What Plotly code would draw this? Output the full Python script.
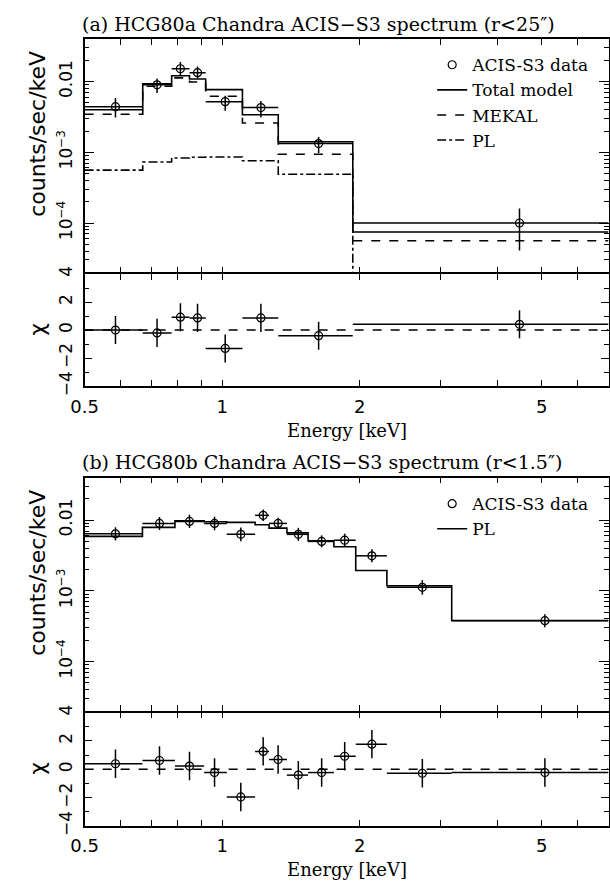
import numpy as np
import plotly.graph_objects as go

# ---------------- (a) HCG80a: MEKAL + power law ----------------
edges_a = [0.5, 0.670, 0.775, 0.848, 0.920, 1.107, 1.326, 1.93, 7.0]
total_a = [0.0040, 0.0093, 0.0121, 0.0109, 0.0077, 0.0034, 0.00141, 7.45e-5]
mekal_a = [0.00345, 0.0086, 0.0113, 0.0099, 0.0062, 0.0026, 0.00094, 5.6e-5]
pl_a = [5.6e-4, 7.3e-4, 8.3e-4, 8.5e-4, 8.6e-4, 7.6e-4, 4.9e-4, 1.8e-5]

energy_a = [0.584, 0.720, 0.810, 0.883, 1.015, 1.215, 1.625, 4.47]
flux_a = [0.00442, 0.0090, 0.0152, 0.0134, 0.0052, 0.0043, 0.00133, 1.0e-4]
flux_a_hi = [0.00589, 0.0111, 0.0189, 0.0164, 0.0063, 0.0053, 0.00165, 1.61e-4]
flux_a_lo = [0.00312, 0.0069, 0.0124, 0.0111, 0.00386, 0.00312, 0.000976, 4.07e-5]
chi_a = [0.0, -0.2, 0.92, 0.87, -1.31, 0.87, -0.4, 0.41]

# ---------------- (b) HCG80b: power law ----------------
edges_b = [0.5, 0.669, 0.788, 0.913, 1.023, 1.180, 1.266, 1.385, 1.541,
           1.755, 1.959, 2.292, 3.177, 7.0]
model_b = [0.0059, 0.0079, 0.0098, 0.0095, 0.0093, 0.0086, 0.0077, 0.0066,
           0.0051, 0.0042, 0.00194, 0.00118, 3.8e-4]
energy_b = [0.584, 0.729, 0.848, 0.962, 1.098, 1.229, 1.325, 1.467, 1.650,
            1.853, 2.125, 2.74, 5.08]
flux_b = [0.0064, 0.0090, 0.0096, 0.0090, 0.0063, 0.0117, 0.0090, 0.0063,
          0.0050, 0.0052, 0.00313, 0.00112, 3.78e-4]
flux_b_hi = [0.00792, 0.0111, 0.0119, 0.0112, 0.00787, 0.0141, 0.0108, 0.00779,
             0.00609, 0.00643, 0.00387, 0.00142, 4.68e-4]
flux_b_lo = [0.00517, 0.00728, 0.00776, 0.00721, 0.00504, 0.00973, 0.00749, 0.00509,
             0.00411, 0.00420, 0.00253, 0.000883, 3.06e-4]
chi_b = [0.39, 0.62, 0.23, -0.23, -1.95, 1.26, 0.69, -0.41, -0.23, 0.92, 1.77,
         -0.28, -0.23]

W, H = 610, 888
SERIF = "DejaVu Serif"
SANS = "DejaVu Sans"
BLACK = "black"
LW = 1.6  # frame line width


def px_x(p):
    return p / W


def px_y(p):
    return 1 - p / H


def step_xy(edges, vals):
    return list(edges), list(vals) + [vals[-1]]


def xerr(edges, e):
    lo = [e[i] - edges[i] for i in range(len(e))]
    hi = [edges[i + 1] - e[i] for i in range(len(e))]
    return hi, lo


fig = go.Figure()


def add_panel(n_main, n_res, edges, energy, flux, fhi, flo, chi, models, legend):
    xa_m, ya_m = ("x", "y") if n_main == 1 else (f"x{n_main}", f"y{n_main}")
    xa_r, ya_r = f"x{n_res}", f"y{n_res}"
    ehi, elo = xerr(edges, energy)
    marker = dict(symbol="circle-open", size=8, color=BLACK, line=dict(width=1.2, color=BLACK))
    fig.add_trace(go.Scatter(
        x=energy, y=flux, mode="markers", name="ACIS-S3 data", legend=legend,
        xaxis=xa_m, yaxis=ya_m, marker=marker,
        error_x=dict(type="data", symmetric=False, array=ehi, arrayminus=elo,
                     width=0, thickness=1.5, color=BLACK),
        error_y=dict(type="data", symmetric=False,
                     array=[h - f for h, f in zip(fhi, flux)],
                     arrayminus=[f - l for f, l in zip(flux, flo)],
                     width=0, thickness=1.5, color=BLACK),
    ))
    for name, vals, dash in models:
        sx, sy = step_xy(edges, vals)
        fig.add_trace(go.Scatter(
            x=sx, y=sy, mode="lines", name=name, legend=legend,
            xaxis=xa_m, yaxis=ya_m, line_shape="hv",
            line=dict(color=BLACK, width=1.6, dash=dash),
        ))
    # residual panel
    fig.add_trace(go.Scatter(
        x=[edges[0], edges[-1]], y=[0, 0], mode="lines", showlegend=False,
        xaxis=xa_r, yaxis=ya_r, line=dict(color=BLACK, width=1.5, dash="dash"),
    ))
    fig.add_trace(go.Scatter(
        x=energy, y=chi, mode="markers", showlegend=False,
        xaxis=xa_r, yaxis=ya_r, marker=marker,
        error_x=dict(type="data", symmetric=False, array=ehi, arrayminus=elo,
                     width=0, thickness=1.5, color=BLACK),
        error_y=dict(type="data", array=[1.0] * len(chi), width=0, thickness=1.5, color=BLACK),
    ))


add_panel(1, 2, edges_a, energy_a, flux_a, flux_a_hi, flux_a_lo, chi_a,
          [("Total model", total_a, "solid"), ("MEKAL", mekal_a, "dash"), ("PL", pl_a, "dashdot")],
          "legend")
add_panel(3, 4, edges_b, energy_b, flux_b, flux_b_hi, flux_b_lo, chi_b,
          [("PL", model_b, "solid")], "legend2")

# ---------------- axes ----------------
x_dom = [px_x(72.3), px_x(608.5)]
xrange_log = [np.log10(0.5), np.log10(7.0)]
yrange_log = [np.log10(2e-5), np.log10(0.04)]

x_major = [0.5, 1, 2, 5]
x_minor = [0.6, 0.7, 0.8, 0.9, 3, 4, 6]
y_major = [1e-4, 1e-3, 1e-2]
y_major_text = ["10<sup>\u22124</sup>", "10<sup>\u22123</sup>", "0.01"]
y_minor = [m * 10.0 ** d for d in (-5, -4, -3, -2) for m in range(2, 10)]

tick_font = dict(family=SANS, size=17, color=BLACK)
common = dict(showline=True, linecolor=BLACK, linewidth=LW, mirror="ticks",
              ticks="inside", tickcolor=BLACK, tickwidth=1.3, showgrid=False,
              zeroline=False)

panels = {
    # (main top px, boundary px, residual bottom px)
    1: (31.7, 270.7, 386.0),
    3: (479.3, 718.3, 835.0),
}

for n_main, (top, mid, bot) in panels.items():
    n_res = n_main + 1
    xm = "xaxis" if n_main == 1 else f"xaxis{n_main}"
    ym = "yaxis" if n_main == 1 else f"yaxis{n_main}"
    xr, yr = f"xaxis{n_res}", f"yaxis{n_res}"
    anchor_xm = "y" if n_main == 1 else f"y{n_main}"
    anchor_ym = "x" if n_main == 1 else f"x{n_main}"
    fig.layout[xm] = dict(common, domain=x_dom, type="log", range=xrange_log,
                          anchor=anchor_xm, tickvals=x_major, ticklen=6,
                          showticklabels=False,
                          minor=dict(tickvals=x_minor, ticks="inside", ticklen=6,
                                     tickcolor=BLACK, tickwidth=1.3, showgrid=False))
    fig.layout[ym] = dict(common, domain=[px_y(mid - LW / 2), px_y(top)], type="log",
                          range=yrange_log, anchor=anchor_ym,
                          tickvals=y_major, ticktext=y_major_text, ticklen=10,
                          tickangle=-90, tickfont=tick_font, ticklabelstandoff=4,
                          minor=dict(tickvals=y_minor, ticks="inside", ticklen=5,
                                     tickcolor=BLACK, tickwidth=1.2, showgrid=False))
    fig.layout[xr] = dict(common, domain=x_dom, type="log", range=xrange_log,
                          anchor=f"y{n_res}", tickvals=x_major,
                          ticktext=["0.5", "1", "2", "5"], ticklen=6,
                          tickfont=dict(family=SANS, size=18, color=BLACK),
                          ticklabelstandoff=3,
                          minor=dict(tickvals=x_minor, ticks="inside", ticklen=6,
                                     tickcolor=BLACK, tickwidth=1.3, showgrid=False))
    fig.layout[yr] = dict(common, domain=[px_y(bot), px_y(mid + LW / 2)], range=[-4, 4],
                          anchor=f"x{n_res}", tickvals=[-4, -2, 0, 2, 4],
                          ticktext=["\u22124", "\u22122", "0", "2", "4"], ticklen=8,
                          tickangle=-90, tickfont=tick_font, ticklabelstandoff=4,
                          minor=dict(tickvals=[-3, -1, 1, 3], ticks="inside", ticklen=5,
                                     tickcolor=BLACK, tickwidth=1.2, showgrid=False))

# ---------------- text ----------------
annotations = []
titles = [
    (16, "(a) HCG80a Chandra ACIS\u2212S3 spectrum (r<25\u2033)"),
    (463, "(b) HCG80b Chandra ACIS\u2212S3 spectrum (r<1.5\u2033)"),
]
for y, t in titles:
    annotations.append(dict(text=t, x=px_x(68), y=px_y(y), xref="paper", yref="paper",
                            xanchor="left", yanchor="middle", showarrow=False,
                            font=dict(family=SERIF, size=19, color=BLACK)))
for off in (0, 448):
    annotations.append(dict(text="counts/sec/keV", x=px_x(24), y=px_y(128 + off),
                            xref="paper", yref="paper", textangle=-90,
                            xanchor="center", yanchor="middle", showarrow=False,
                            font=dict(family=SANS, size=22, color=BLACK)))
    annotations.append(dict(text="\u03c7", x=px_x(24), y=px_y(328 + off),
                            xref="paper", yref="paper", textangle=-90,
                            xanchor="center", yanchor="middle", showarrow=False,
                            font=dict(family=SANS, size=22, color=BLACK)))
    annotations.append(dict(text="Energy [keV]", x=px_x(341), y=px_y(431 + off),
                            xref="paper", yref="paper",
                            xanchor="center", yanchor="middle", showarrow=False,
                            font=dict(family=SERIF, size=18, color=BLACK)))

legend_style = dict(bgcolor="rgba(0,0,0,0)", borderwidth=0, xanchor="left",
                    yanchor="top", font=dict(family=SERIF, size=17, color=BLACK),
                    tracegroupgap=0, itemwidth=30)

fig.update_layout(
    width=W, height=H,
    margin=dict(l=0, r=0, t=0, b=0),
    paper_bgcolor="white", plot_bgcolor="white",
    annotations=annotations,
    legend=dict(legend_style, x=px_x(428), y=px_y(40)),
    legend2=dict(legend_style, x=px_x(428), y=px_y(488)),
)

fig.write_html("out.html")
